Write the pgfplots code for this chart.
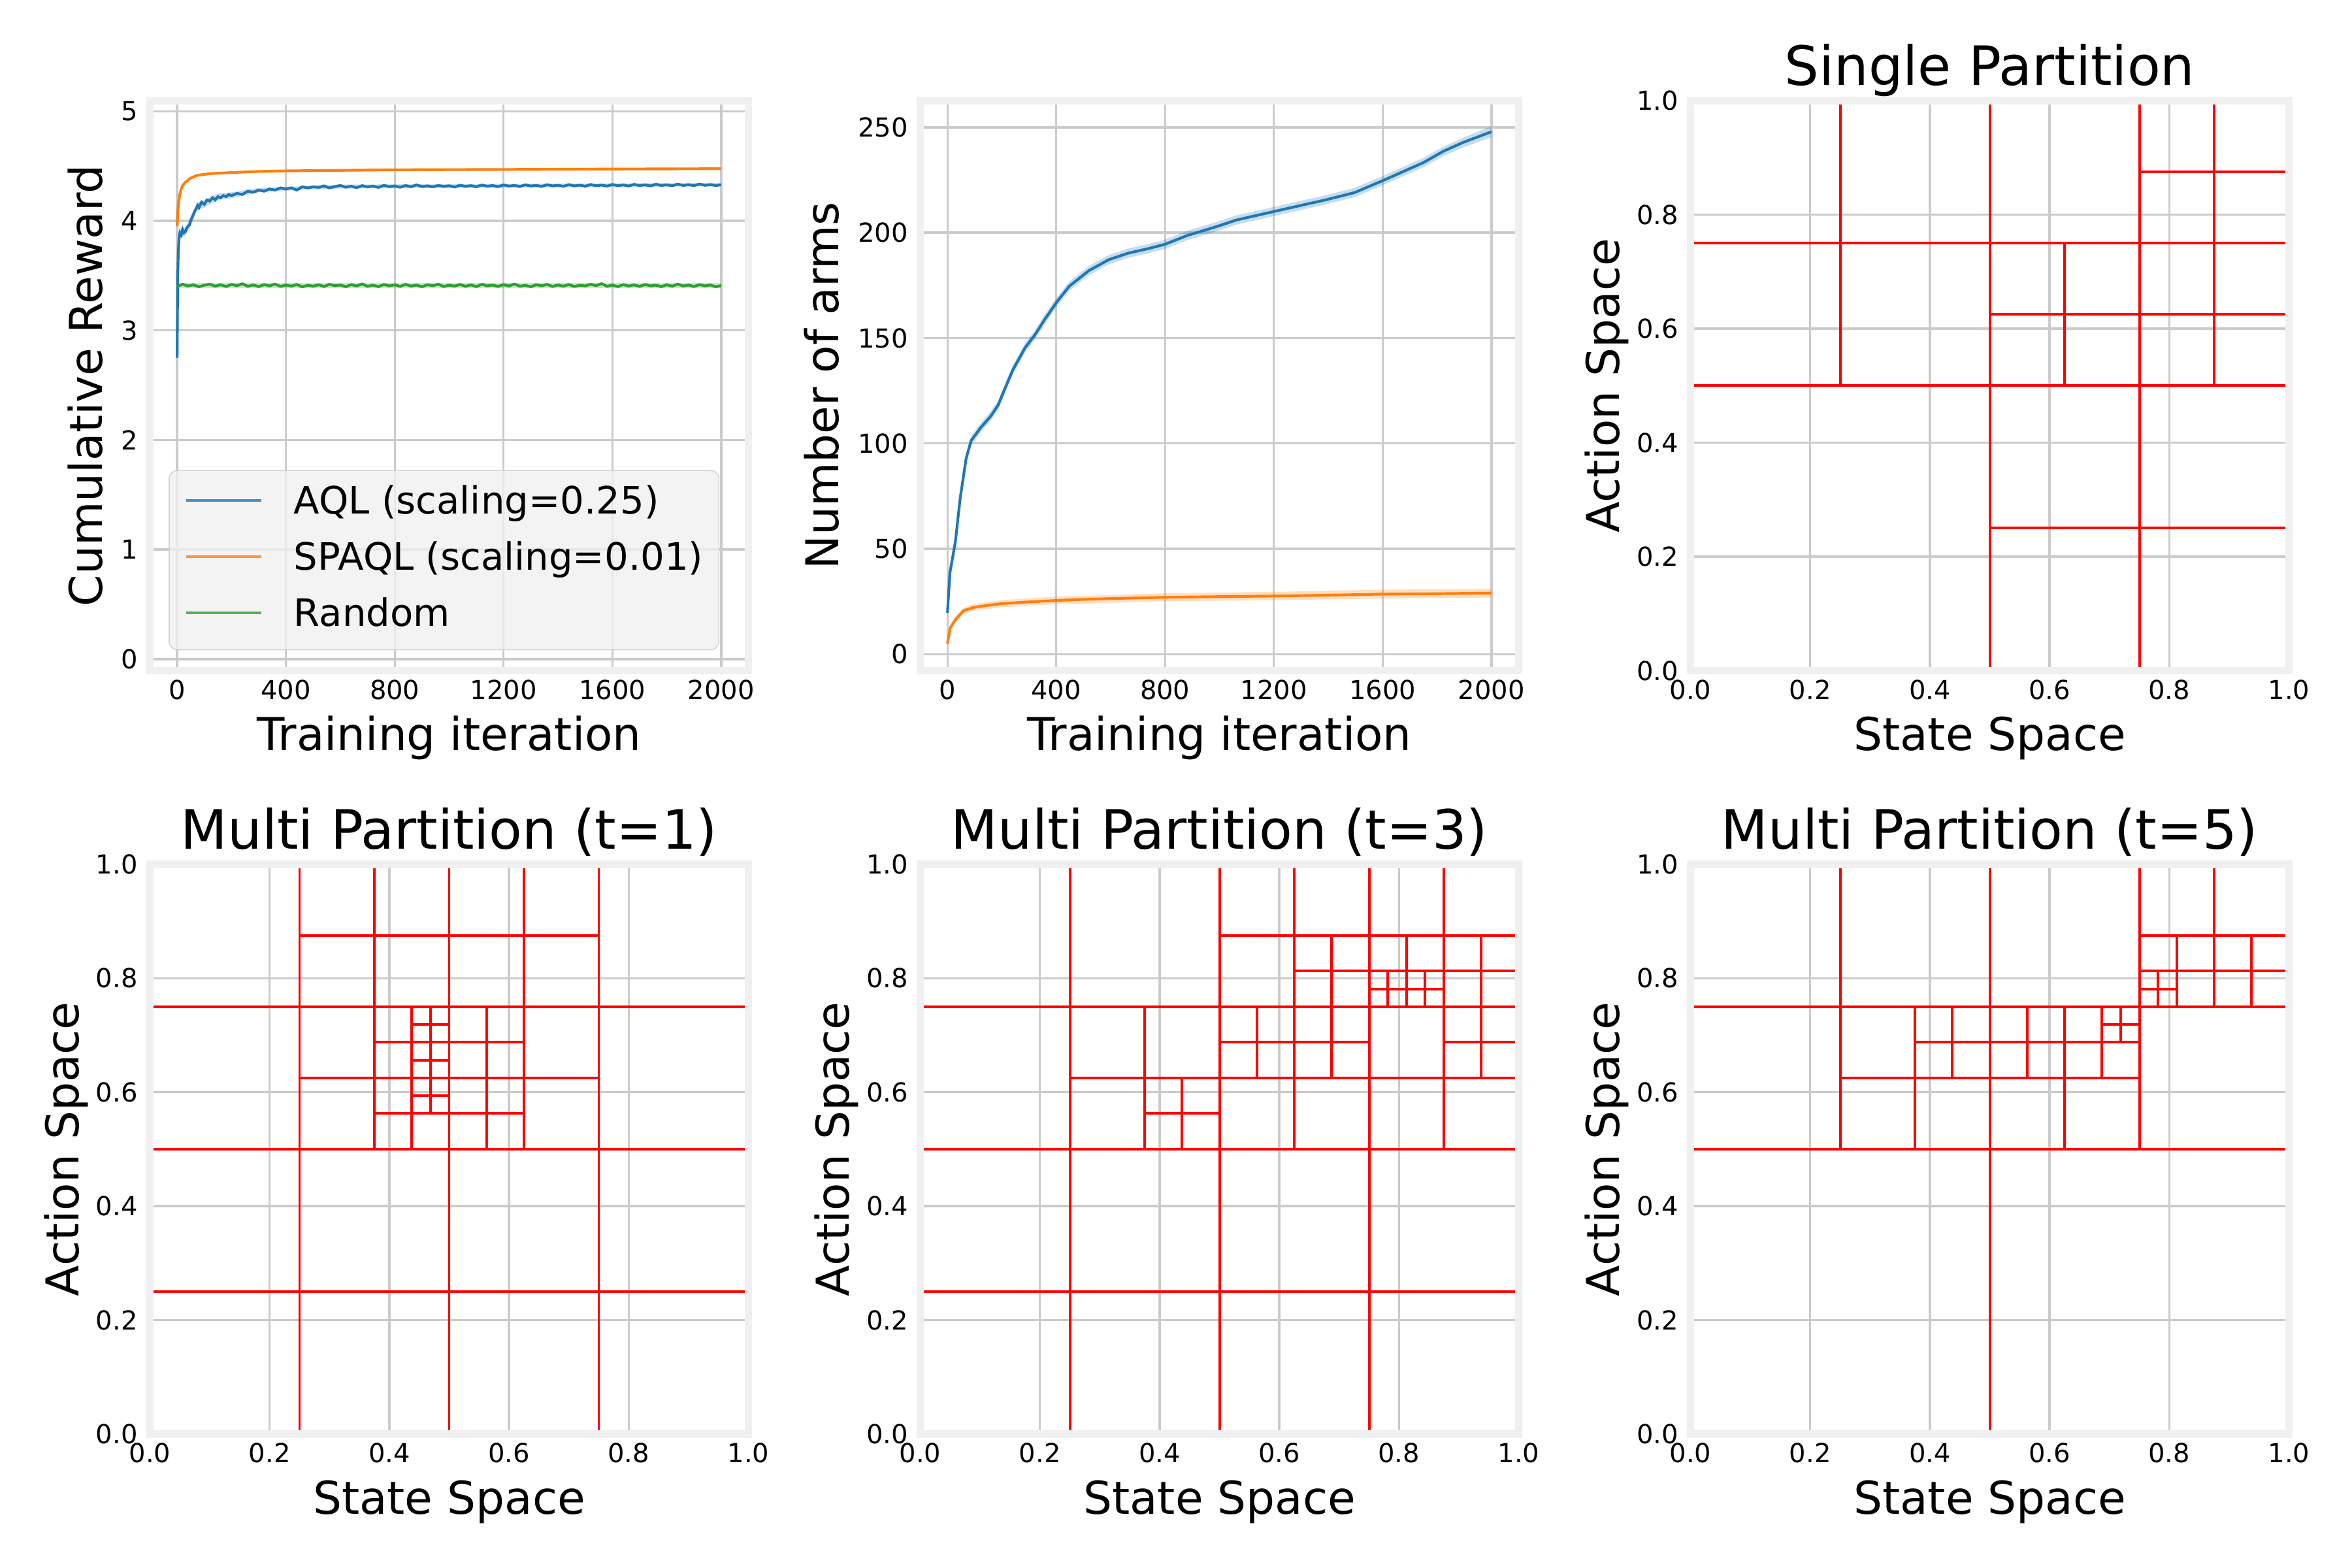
\documentclass[border=0pt]{standalone}
\usepackage{fontspec}
\setmainfont{DejaVu Sans}
\usepackage{pgfplots}
\pgfplotsset{compat=1.18}

\definecolor{tabblue}{HTML}{1F77B4}
\definecolor{taborange}{HTML}{FF7F0E}
\definecolor{tabgreen}{HTML}{2CA02C}
\definecolor{gridgray}{HTML}{CBCBCB}
\definecolor{framegray}{HTML}{F0F0F0}
\definecolor{legendedge}{HTML}{CCCCCC}

\pgfplotsset{
  panel/.style={
    scale only axis, width=7.7555cm, height=7.385cm, anchor=south west,
    axis line style={draw=none}, major tick length=0pt,
    grid=major, grid style={gridgray, line width=0.8pt},
    tick label style={font=\fontsize{9.65}{11.6}\selectfont},
    xticklabel style={anchor=base, yshift=-10.5pt},
    yticklabel style={xshift=-1pt},
    label style={font=\fontsize{16.7}{20}\selectfont},
    xlabel style={at={(axis description cs:0.5,-0.1399)}, anchor=base},
    every axis title shift=0pt,
    title style={at={(axis description cs:0.5,1.0269)}, anchor=base, font=\fontsize{20}{24}\selectfont},
    /pgf/number format/assume math mode=true,
    /pgf/number format/1000 sep={},
    scaled ticks=false,
    after end axis/.append code={\draw[framegray, line width=2.8pt] (rel axis cs:0,0) rectangle (rel axis cs:1,1);},
  },
  curve/.style={panel, xmin=-100, xmax=2100, xtick={0,400,800,1200,1600,2000}, xlabel={Training iteration}},
  part/.style={panel, xmin=0, xmax=1, ymin=0, ymax=1,
    xtick={0,0.2,0.4,0.6,0.8,1}, ytick={0,0.2,0.4,0.6,0.8,1},
    xticklabel style={/pgf/number format/.cd, fixed, fixed zerofill, precision=1},
    yticklabel style={/pgf/number format/.cd, fixed, fixed zerofill, precision=1},
    xlabel={State Space}, ylabel={Action Space},
    ylabel style={at={(axis description cs:-0.1186,0.5)}, anchor=base}},
  seg/.style={red, line width=0.95pt, line cap=rect, forget plot},
  band/.style={draw=none, fill opacity=0.25, forget plot},
}

\begin{document}
\begin{tikzpicture}
\useasboundingbox (0,0) rectangle (30.48cm,20.32cm);

% ---- cumulative reward
\begin{axis}[curve, at={(1.9431cm,11.629cm)},
  ymin=-0.105, ymax=5.095, ytick={0,1,2,3,4,5},
  ylabel={Cumulative Reward}, ylabel style={at={(axis description cs:-0.0797,0.5)}, anchor=base},
  legend cell align=left,
  legend style={at={(axis description cs:0,0)}, anchor=south west, xshift=6.9pt, yshift=7.5pt,
    font=\fontsize{13.9}{16.7}\selectfont, fill=framegray, fill opacity=0.8, draw opacity=0.8, text opacity=1,
    draw=legendedge, rounded corners=3pt, inner xsep=5.8pt, inner ysep=5.6pt, row sep=7.2pt,
    nodes={inner sep=0pt, text height=10.5pt, text depth=3pt}},
  legend image code/.code={\draw[#1, line width=1pt] (0pt,1.3pt) -- (27.7pt,1.3pt); \path[draw=none, fill=none] (39.7pt,1.3pt) -- (39.7pt,1.3pt);}]
\addplot[band, fill=tabblue] coordinates {(0,2.80) (4,3.72) (10,3.93) (30,3.94) (50,4.04) (75,4.17) (100,4.19) (150,4.25) (200,4.26) (300,4.30) (400,4.31) (600,4.33) (1000,4.335) (2000,4.345)
 (2000,4.315) (1000,4.30) (600,4.295) (400,4.275) (300,4.26) (200,4.205) (150,4.19) (100,4.12) (75,4.10) (50,3.96) (30,3.86) (10,3.85) (4,3.66) (0,2.70)} -- cycle;
\addplot[band, fill=tabgreen] coordinates {(0,3.435) (2000,3.435) (2000,3.385) (0,3.385)} -- cycle;
\addplot[tabblue, line width=1pt] coordinates {
(0,2.75) (2,3.45) (4,3.69) (6,3.80) (8,3.86) (10,3.89) (15,3.87) (20,3.92) (25,3.89) (30,3.90) (35,3.93) (40,3.95) (45,3.96) (50,4.00) (55,4.03) (60,4.06) (65,4.09) (70,4.11) (75,4.14) (80,4.12) (90,4.17) (100,4.15)
(110,4.19) (120,4.18) (130,4.21) (140,4.19) (150,4.22) (160,4.21) (170,4.23) (180,4.22) (190,4.24) (200,4.23) (220,4.25) (240,4.24) (260,4.27) (280,4.26) (300,4.28) (320,4.27) (340,4.29) (360,4.28) (380,4.30) (400,4.29)
(420,4.30) (440,4.28) (460,4.31) (480,4.30) (500,4.31) (520,4.305) (540,4.318) (560,4.300) (580,4.312) (600,4.322) (620,4.306) (640,4.315) (660,4.302) (680,4.320) (700,4.309) (720,4.316) (740,4.304) (760,4.323) (780,4.311)
(800,4.317) (820,4.306) (840,4.321) (860,4.310) (880,4.328) (900,4.312) (920,4.318) (940,4.309) (960,4.322) (980,4.313) (1000,4.319) (1020,4.308) (1040,4.324) (1060,4.314) (1080,4.320) (1100,4.310) (1120,4.326) (1140,4.315)
(1160,4.321) (1180,4.311) (1200,4.327) (1220,4.316) (1240,4.322) (1260,4.312) (1280,4.328) (1300,4.317) (1320,4.323) (1340,4.313) (1360,4.329) (1380,4.318) (1400,4.324) (1420,4.314) (1440,4.330) (1460,4.318) (1480,4.325)
(1500,4.315) (1520,4.331) (1540,4.319) (1560,4.326) (1580,4.316) (1600,4.331) (1620,4.320) (1640,4.327) (1660,4.317) (1680,4.332) (1700,4.321) (1720,4.328) (1740,4.318) (1760,4.333) (1780,4.322) (1800,4.328) (1820,4.319)
(1840,4.334) (1860,4.322) (1880,4.329) (1900,4.320) (1920,4.335) (1940,4.323) (1960,4.330) (1980,4.321) (2000,4.328)};
\addlegendentry{AQL (scaling=0.25)}
\addplot[taborange, line width=1pt] coordinates {
(0,3.95) (3,4.10) (6,4.18) (10,4.24) (15,4.29) (20,4.32) (30,4.35) (40,4.37) (50,4.39) (60,4.40) (75,4.415) (90,4.42) (120,4.43) (160,4.435) (200,4.44) (300,4.45) (400,4.455) (600,4.46) (800,4.465) (1200,4.468) (1600,4.472) (2000,4.475)};
\addlegendentry{SPAQL (scaling=0.01)}
\addplot[tabgreen, line width=1pt] coordinates {
(0,3.40) (20,3.42) (40,3.405) (60,3.415) (80,3.398) (100,3.412) (120,3.421) (140,3.403) (160,3.416) (180,3.400) (200,3.419) (220,3.408) (240,3.425) (260,3.402) (280,3.414) (300,3.399) (320,3.417) (340,3.406) (360,3.422)
(380,3.401) (400,3.413) (420,3.404) (440,3.418) (460,3.397) (480,3.411) (500,3.403) (520,3.416) (540,3.400) (560,3.420) (580,3.407) (600,3.414) (620,3.398) (640,3.417) (660,3.405) (680,3.423) (700,3.402) (720,3.412)
(740,3.399) (760,3.418) (780,3.406) (800,3.415) (820,3.401) (840,3.419) (860,3.404) (880,3.413) (900,3.398) (920,3.416) (940,3.407) (960,3.421) (980,3.400) (1000,3.412) (1020,3.404) (1040,3.418) (1060,3.402) (1080,3.415)
(1100,3.399) (1120,3.420) (1140,3.406) (1160,3.413) (1180,3.401) (1200,3.417) (1220,3.405) (1240,3.422) (1260,3.403) (1280,3.411) (1300,3.398) (1320,3.416) (1340,3.407) (1360,3.419) (1380,3.401) (1400,3.414) (1420,3.403)
(1440,3.418) (1460,3.400) (1480,3.412) (1500,3.405) (1520,3.420) (1540,3.408) (1560,3.426) (1580,3.402) (1600,3.413) (1620,3.399) (1640,3.417) (1660,3.404) (1680,3.415) (1700,3.401) (1720,3.418) (1740,3.406) (1760,3.412)
(1780,3.399) (1800,3.416) (1820,3.403) (1840,3.421) (1860,3.405) (1880,3.413) (1900,3.400) (1920,3.417) (1940,3.406) (1960,3.414) (1980,3.398) (2000,3.409)};
\addlegendentry{Random}
\end{axis}

% ---- number of arms
\begin{axis}[curve, at={(11.9254cm,11.629cm)},
  ymin=-7.8, ymax=262.6, ytick={0,50,100,150,200,250},
  ylabel={Number of arms}, ylabel style={at={(axis description cs:-0.1362,0.5)}, anchor=base}]
\addplot[band, fill=tabblue] coordinates {
(0,21.9) (9,40.7) (29,55.4) (47,76.3) (69,95.2) (87,103.5) (123,109.8) (159,115.1) (186,120.3) (213,128.7) (240,137.0) (285,147.5) (322,153.8) (358,161.1) (403,169.5) (448,176.8) (520,184.2) (593,189.4) (665,192.5) (737,194.6) (800,196.7)
(882,200.9) (990,205.1) (1062,208.2) (1171,211.4) (1315,215.6) (1388,217.7) (1496,221.2) (1604,227.1) (1677,231.3) (1749,235.4) (1821,240.7) (1893,244.9) (2000,250.6)
(2000,245.3) (1893,240.3) (1821,236.2) (1749,231.0) (1677,226.9) (1604,222.7) (1496,216.8) (1388,213.3) (1315,211.2) (1171,207.0) (1062,203.8) (990,200.7) (882,196.5) (800,192.3) (737,190.2) (665,188.1) (593,185.0)
(520,179.8) (448,172.4) (403,165.1) (358,156.7) (322,149.4) (285,143.1) (240,132.6) (213,124.3) (186,115.9) (159,110.7) (123,105.4) (87,99.1) (69,90.8) (47,71.9) (29,51.0) (9,36.3) (0,17.5)} -- cycle;
\addplot[band, fill=taborange] coordinates {
(0,6) (10,13.6) (30,17.9) (60,22.2) (100,23.9) (200,25.7) (400,27.3) (800,28.9) (1200,29.6) (1600,30.6) (2000,31.1)
(2000,26.9) (1600,26.4) (1200,25.6) (800,25.1) (400,23.7) (200,22.3) (100,20.7) (60,19.2) (30,15.1) (10,11.2) (0,4)} -- cycle;
\addplot[tabblue, line width=1pt] coordinates {
(0,19.7) (9,38.5) (29,53.2) (47,74.1) (69,93.0) (87,101.3) (123,107.6) (159,112.9) (186,118.1) (213,126.5) (240,134.8) (285,145.3) (322,151.6) (358,158.9) (403,167.3) (448,174.6) (520,182.0) (593,187.2) (665,190.3)
(737,192.4) (800,194.5) (882,198.7) (990,202.9) (1062,206.0) (1171,209.2) (1315,213.4) (1388,215.5) (1496,219.0) (1604,224.9) (1677,229.1) (1749,233.2) (1821,238.5) (1893,242.7) (2000,247.9)};
\addplot[taborange, line width=1pt] coordinates {
(0,5) (10,12.4) (30,16.5) (60,20.7) (100,22.3) (150,23.2) (200,24.0) (300,24.8) (400,25.5) (500,26.0) (600,26.4) (800,27.0) (1000,27.3) (1200,27.6) (1400,28.0) (1600,28.5) (1800,28.7) (2000,29.0)};
\end{axis}

% ---- single partition
\begin{axis}[part, at={(21.9076cm,11.629cm)}, title={Single Partition}]
\addplot[seg] coordinates {(0.25,0.5) (0.25,1)};
\addplot[seg] coordinates {(0.5,0) (0.5,1)};
\addplot[seg] coordinates {(0.625,0.5) (0.625,0.75)};
\addplot[seg] coordinates {(0.75,0) (0.75,1)};
\addplot[seg] coordinates {(0.875,0.5) (0.875,1)};
\addplot[seg] coordinates {(0,0.75) (1,0.75)};
\addplot[seg] coordinates {(0,0.5) (1,0.5)};
\addplot[seg] coordinates {(0.75,0.875) (1,0.875)};
\addplot[seg] coordinates {(0.5,0.625) (1,0.625)};
\addplot[seg] coordinates {(0.5,0.25) (1,0.25)};
\end{axis}

% ---- multi partition t=1
\begin{axis}[part, at={(1.9431cm,1.7357cm)}, title={Multi Partition (t=1)}]
\addplot[seg] coordinates {(0.25,0) (0.25,1)};
\addplot[seg] coordinates {(0.5,0) (0.5,1)};
\addplot[seg] coordinates {(0.75,0) (0.75,1)};
\addplot[seg] coordinates {(0.375,0.5) (0.375,1)};
\addplot[seg] coordinates {(0.625,0.5) (0.625,1)};
\addplot[seg] coordinates {(0.4375,0.5) (0.4375,0.75)};
\addplot[seg] coordinates {(0.5625,0.5) (0.5625,0.75)};
\addplot[seg] coordinates {(0.46875,0.5625) (0.46875,0.75)};
\addplot[seg] coordinates {(0,0.25) (1,0.25)};
\addplot[seg] coordinates {(0,0.5) (1,0.5)};
\addplot[seg] coordinates {(0,0.75) (1,0.75)};
\addplot[seg] coordinates {(0.25,0.875) (0.75,0.875)};
\addplot[seg] coordinates {(0.25,0.625) (0.75,0.625)};
\addplot[seg] coordinates {(0.375,0.6875) (0.625,0.6875)};
\addplot[seg] coordinates {(0.375,0.5625) (0.625,0.5625)};
\addplot[seg] coordinates {(0.4375,0.71875) (0.5,0.71875)};
\addplot[seg] coordinates {(0.4375,0.65625) (0.5,0.65625)};
\addplot[seg] coordinates {(0.4375,0.59375) (0.5,0.59375)};
\end{axis}

% ---- multi partition t=3
\begin{axis}[part, at={(11.9254cm,1.7357cm)}, title={Multi Partition (t=3)}]
\addplot[seg] coordinates {(0.25,0) (0.25,1)};
\addplot[seg] coordinates {(0.5,0) (0.5,1)};
\addplot[seg] coordinates {(0.75,0) (0.75,1)};
\addplot[seg] coordinates {(0.375,0.5) (0.375,0.75)};
\addplot[seg] coordinates {(0.4375,0.5) (0.4375,0.625)};
\addplot[seg] coordinates {(0.625,0.5) (0.625,1)};
\addplot[seg] coordinates {(0.5625,0.625) (0.5625,0.75)};
\addplot[seg] coordinates {(0.6875,0.625) (0.6875,0.875)};
\addplot[seg] coordinates {(0.875,0.5) (0.875,1)};
\addplot[seg] coordinates {(0.8125,0.75) (0.8125,0.875)};
\addplot[seg] coordinates {(0.78125,0.75) (0.78125,0.8125)};
\addplot[seg] coordinates {(0.84375,0.75) (0.84375,0.8125)};
\addplot[seg] coordinates {(0.9375,0.625) (0.9375,0.875)};
\addplot[seg] coordinates {(0,0.25) (1,0.25)};
\addplot[seg] coordinates {(0,0.5) (1,0.5)};
\addplot[seg] coordinates {(0,0.75) (1,0.75)};
\addplot[seg] coordinates {(0.25,0.625) (1,0.625)};
\addplot[seg] coordinates {(0.375,0.5625) (0.5,0.5625)};
\addplot[seg] coordinates {(0.5,0.875) (1,0.875)};
\addplot[seg] coordinates {(0.5,0.6875) (0.75,0.6875)};
\addplot[seg] coordinates {(0.875,0.6875) (1,0.6875)};
\addplot[seg] coordinates {(0.625,0.8125) (1,0.8125)};
\addplot[seg] coordinates {(0.75,0.78125) (0.875,0.78125)};
\end{axis}

% ---- multi partition t=5
\begin{axis}[part, at={(21.9076cm,1.7357cm)}, title={Multi Partition (t=5)}]
\addplot[seg] coordinates {(0.25,0.5) (0.25,1)};
\addplot[seg] coordinates {(0.5,0) (0.5,1)};
\addplot[seg] coordinates {(0.75,0.5) (0.75,1)};
\addplot[seg] coordinates {(0.875,0.75) (0.875,1)};
\addplot[seg] coordinates {(0.375,0.5) (0.375,0.75)};
\addplot[seg] coordinates {(0.625,0.5) (0.625,0.75)};
\addplot[seg] coordinates {(0.4375,0.625) (0.4375,0.75)};
\addplot[seg] coordinates {(0.5625,0.625) (0.5625,0.75)};
\addplot[seg] coordinates {(0.6875,0.625) (0.6875,0.75)};
\addplot[seg] coordinates {(0.71875,0.6875) (0.71875,0.75)};
\addplot[seg] coordinates {(0.8125,0.75) (0.8125,0.875)};
\addplot[seg] coordinates {(0.9375,0.75) (0.9375,0.875)};
\addplot[seg] coordinates {(0.78125,0.75) (0.78125,0.8125)};
\addplot[seg] coordinates {(0,0.75) (1,0.75)};
\addplot[seg] coordinates {(0,0.5) (1,0.5)};
\addplot[seg] coordinates {(0.25,0.625) (0.75,0.625)};
\addplot[seg] coordinates {(0.375,0.6875) (0.75,0.6875)};
\addplot[seg] coordinates {(0.6875,0.71875) (0.75,0.71875)};
\addplot[seg] coordinates {(0.75,0.875) (1,0.875)};
\addplot[seg] coordinates {(0.75,0.8125) (1,0.8125)};
\addplot[seg] coordinates {(0.75,0.78125) (0.8125,0.78125)};
\end{axis}
\end{tikzpicture}
\end{document}
